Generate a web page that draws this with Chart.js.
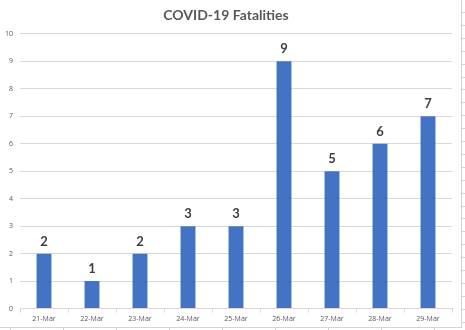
<!DOCTYPE html>
<html>
<head>
<meta charset="utf-8">
<script src="https://cdn.jsdelivr.net/npm/chart.js@4"></script>
<style>
  html, body { margin: 0; padding: 0; background: #fff; }
  #wrap { position: relative; width: 465px; height: 330px; }
</style>
</head>
<body>
<div id="wrap"><canvas id="grafico"></canvas></div>
<script>
// dados do gráfico
const categorias = ['21-Mar', '22-Mar', '23-Mar', '24-Mar', '25-Mar', '26-Mar', '27-Mar', '28-Mar', '29-Mar'];
const mortes = [2, 1, 2, 3, 3, 9, 5, 6, 7];
const ticksY = [0, 1, 2, 3, 4, 5, 6, 7, 8, 9, 10];

const corTexto = '#595959';
const corGrade = '#d9d9d9';

// rótulos em cima das barras
const rotulosPlugin = {
    id: 'rotulos',
    afterDatasetsDraw(chart) {
        const ctx = chart.ctx;
        const meta = chart.getDatasetMeta(0);
        ctx.save();
        ctx.font = 'bold 13px Lato, "Open Sans", sans-serif';
        ctx.fillStyle = '#404040';
        ctx.textAlign = 'center';
        ctx.textBaseline = 'alphabetic';
        meta.data.forEach((bar, i) => {
            ctx.fillText(String(mortes[i]), bar.x, bar.y - 8);
        });
        ctx.restore();
    }
};

// linhas da planilha nas bordas da imagem
const planilhaPlugin = {
    id: 'planilha',
    afterDraw(chart) {
        const ctx = chart.ctx;
        ctx.save();
        ctx.strokeStyle = '#d4d4d4';
        ctx.lineWidth = 1;
        ctx.beginPath();
        ctx.moveTo(461.5, 0);
        ctx.lineTo(461.5, 328);
        ctx.moveTo(0, 327.5);
        ctx.lineTo(462, 327.5);
        for (let y = 12; y < 327; y += 12.9) {
            ctx.moveTo(462, Math.round(y) + 0.5);
            ctx.lineTo(465, Math.round(y) + 0.5);
        }
        for (let x = 10; x < 462; x += 53) {
            ctx.moveTo(Math.round(x) + 0.5, 328);
            ctx.lineTo(Math.round(x) + 0.5, 330);
        }
        ctx.stroke();
        ctx.restore();
    }
};

const ctx = document.getElementById('grafico').getContext('2d');
new Chart(ctx, {
    type: 'bar',
    data: {
        labels: categorias,
        datasets: [{
            data: mortes,
            backgroundColor: '#4472c4',
            categoryPercentage: 1,
            barPercentage: 0.31
        }]
    },
    options: {
        responsive: true,
        maintainAspectRatio: false,
        animation: false,
        layout: { padding: { left: 0, right: 13, top: 0, bottom: 5 } },
        plugins: {
            legend: { display: false },
            tooltip: { enabled: false },
            title: {
                display: true,
                text: 'COVID-19 Fatalities',
                color: corTexto,
                font: { family: 'Lato, "Open Sans", sans-serif', size: 14, weight: 'bold' },
                padding: { top: 7, bottom: 10 }
            }
        },
        scales: {
            x: {
                grid: { drawOnChartArea: false, drawTicks: true, tickLength: 4, color: corGrade },
                border: { color: corGrade },
                ticks: {
                    color: corTexto,
                    font: { family: '"Open Sans", sans-serif', size: 7 },
                    padding: 2,
                    maxRotation: 0
                }
            },
            y: {
                min: 0,
                max: 10,
                afterBuildTicks(axis) {
                    axis.ticks = ticksY.map(v => ({ value: v }));
                },
                afterFit(axis) { axis.width = 20; },
                grid: { drawTicks: false, color: corGrade },
                border: { display: false },
                ticks: {
                    color: corTexto,
                    font: { family: '"Open Sans", sans-serif', size: 7 },
                    padding: 7
                }
            }
        }
    },
    plugins: [rotulosPlugin, planilhaPlugin]
});
</script>
</body>
</html>
